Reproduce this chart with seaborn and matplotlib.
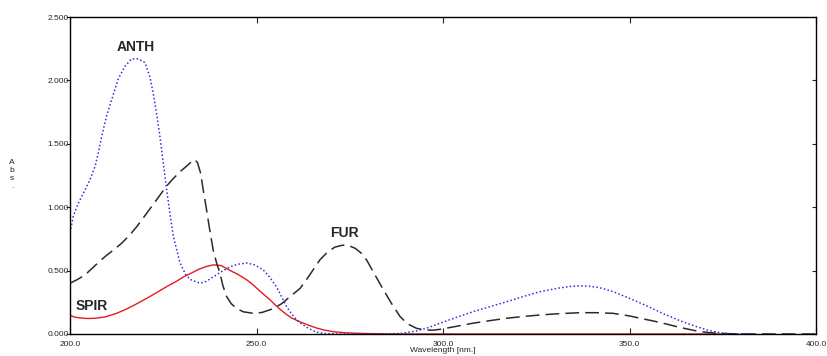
import numpy as np
import pandas as pd
import matplotlib
matplotlib.use("Agg")
import matplotlib.pyplot as plt
import seaborn as sns

# ---- data ----
anth_wl = [200, 200.9, 202.2, 203.6, 205.4, 206.7, 207.6, 208.5, 209.8, 211.2, 212.9, 214.7,
           216.5, 218.3, 220.1, 221.4, 222.3, 223.2, 224.1, 225.0, 225.9, 226.8, 227.7,
           229.5, 231.0, 232.2, 234.9, 236.5, 238.4, 240.5, 242.9, 245.0, 247.4, 249.5,
           251.8, 253.5, 255.4, 256.8, 258.1, 259.5, 260.8, 262.3, 263.9, 266, 268, 272,
           285, 289, 293, 296, 299.2, 303.5, 308.1, 312.5, 317.1, 321.5, 326, 331, 334,
           336.7, 339, 342, 345.7, 348, 350.1, 354, 359.1, 363.5, 368, 371, 374.3, 377, 382]
anth_abs = [0.80, 0.93, 1.03, 1.11, 1.22, 1.32, 1.43, 1.56, 1.72, 1.85, 2.01, 2.11,
            2.17, 2.17, 2.14, 2.03, 1.90, 1.74, 1.56, 1.35, 1.14, 0.95, 0.77,
            0.56, 0.47, 0.43, 0.40, 0.415, 0.45, 0.49, 0.53, 0.55, 0.56, 0.545,
            0.505, 0.45, 0.37, 0.29, 0.215, 0.155, 0.11, 0.075, 0.045, 0.015, 0.004, 0.0,
            0.0, 0.005, 0.025, 0.05, 0.085, 0.13, 0.176, 0.215, 0.255, 0.295, 0.334, 0.362, 0.375,
            0.38, 0.378, 0.365, 0.334, 0.305, 0.28, 0.23, 0.16, 0.105, 0.058, 0.03, 0.01, 0.002, 0.0]

fur_wl = [200, 202, 204, 206, 208, 210, 212, 214, 216, 218, 220, 222, 224, 225.7, 227.5,
          229.5, 231.5, 232.8, 233.5, 234.2, 235, 235.7, 236.5, 237.3, 238.4, 239.3, 240.2,
          241, 242, 243.2, 244.7, 246.5, 249.1, 251.5, 254.5, 256.8, 259, 261.7, 263.9,
          265.5, 267, 269, 271, 273, 274.5, 276.5, 278, 279.5, 281.5, 284, 286, 288.5,
          290.5, 292.9, 295, 297.4, 299.2, 303.5, 308, 312.5, 317, 321.5, 326, 331, 336.7,
          341, 345.6, 350.1, 352.8, 356, 359, 363.5, 368, 371, 374, 378, 382, 400]
fur_abs = [0.40, 0.43, 0.465, 0.52, 0.575, 0.625, 0.67, 0.72, 0.78, 0.85, 0.93, 1.01, 1.09,
           1.16, 1.22, 1.28, 1.33, 1.365, 1.375, 1.35, 1.27, 1.14, 1.00, 0.85, 0.66, 0.56,
           0.48, 0.38, 0.295, 0.24, 0.20, 0.175, 0.163, 0.17, 0.20, 0.24, 0.295, 0.36, 0.45,
           0.52, 0.585, 0.645, 0.685, 0.70, 0.70, 0.675, 0.64, 0.585, 0.48, 0.35, 0.25, 0.137,
           0.08, 0.045, 0.032, 0.03, 0.037, 0.06, 0.085, 0.105, 0.124, 0.138, 0.15, 0.16, 0.168,
           0.168, 0.163, 0.142, 0.124, 0.105, 0.085, 0.052, 0.024, 0.012, 0.005, 0.001, 0.0, 0.0]

spir_wl = [200, 201, 202.5, 204.9, 207, 209.5, 212.5, 215, 217.5, 221.4, 224, 226, 228.5,
           230.4, 232.5, 234.5, 236.5, 238.4, 240.5, 243, 245, 247.4, 249, 250.5, 252,
           253.6, 255, 256.5, 258, 259.5, 261.7, 263.9, 266, 268, 270.6, 274, 279, 285,
           290, 379]
spir_abs = [0.15, 0.135, 0.127, 0.122, 0.125, 0.135, 0.163, 0.195, 0.232, 0.295, 0.34, 0.375,
            0.415, 0.45, 0.48, 0.51, 0.532, 0.545, 0.54, 0.50, 0.47, 0.427, 0.39, 0.35, 0.31,
            0.27, 0.23, 0.19, 0.155, 0.125, 0.095, 0.07, 0.048, 0.032, 0.018, 0.009, 0.004,
            0.001, 0.0, 0.0]

labels = ["ANTH", "FUR", "SPIR"]
label_pos = [(217.6, 2.26), (273.7, 0.795), (205.9, 0.224)]
x_ticks = [200, 250, 300, 350, 400]
y_ticks = [0.0, 0.5, 1.0, 1.5, 2.0, 2.5]

sns.set_style("white")
plt.rcParams["font.family"] = ["Liberation Sans", "DejaVu Sans"]

fig = plt.figure(figsize=(8.27, 3.56), dpi=100)
ax = fig.add_axes([70 / 827, 22 / 356, 746 / 827, 317 / 356])

df_spir = pd.DataFrame({"wl": spir_wl, "abs": spir_abs})
df_fur = pd.DataFrame({"wl": fur_wl, "abs": fur_abs})
df_anth = pd.DataFrame({"wl": anth_wl, "abs": anth_abs})

sns.lineplot(data=df_spir, x="wl", y="abs", ax=ax, color="#e8191e", lw=1.0, sort=False)
sns.lineplot(data=df_fur, x="wl", y="abs", ax=ax, color="#2b2b2b", lw=1.1, sort=False,
             linestyle=(0, (9, 4)))
sns.lineplot(data=df_anth, x="wl", y="abs", ax=ax, color="#2f2fe0", lw=1.1, sort=False,
             linestyle=(0, (1, 1.5)))

ax.set_xlim(200, 400)
ax.set_ylim(0, 2.5)
ax.set_xticks(x_ticks)
ax.set_xticklabels([f"{v:.1f}" for v in x_ticks], fontsize=6)
ax.set_yticks(y_ticks)
ax.set_yticklabels([f"{v:.3f}" for v in y_ticks], fontsize=6)

for s in ax.spines.values():
    s.set_visible(True)
    s.set_color("black")
    s.set_linewidth(1.0)

ax.tick_params(axis="y", left=True, right=True, direction="in",
               length=3, width=0.8, pad=1, labelsize=6)
ax.tick_params(axis="x", bottom=True, top=True, direction="in", length=4, width=0.8,
               pad=5, labelsize=6)
# left ticks outward
for t in ax.yaxis.get_major_ticks():
    t.tick1line.set_marker(matplotlib.lines.TICKLEFT)

ax.set_xlabel("Wavelength [nm.]", fontsize=6, labelpad=-1)
ax.set_ylabel("")
fig.text(12 / 827, 1 - 175 / 356, "A\nb\ns\n.", fontsize=6, ha="center", va="center",
         linespacing=1.2)

for lab, (x, y) in zip(labels, label_pos):
    ax.text(x, y, lab, fontsize=10, fontweight="bold", ha="center", va="center")

ax.grid(False)
fig.savefig("out.png", dpi=100)
